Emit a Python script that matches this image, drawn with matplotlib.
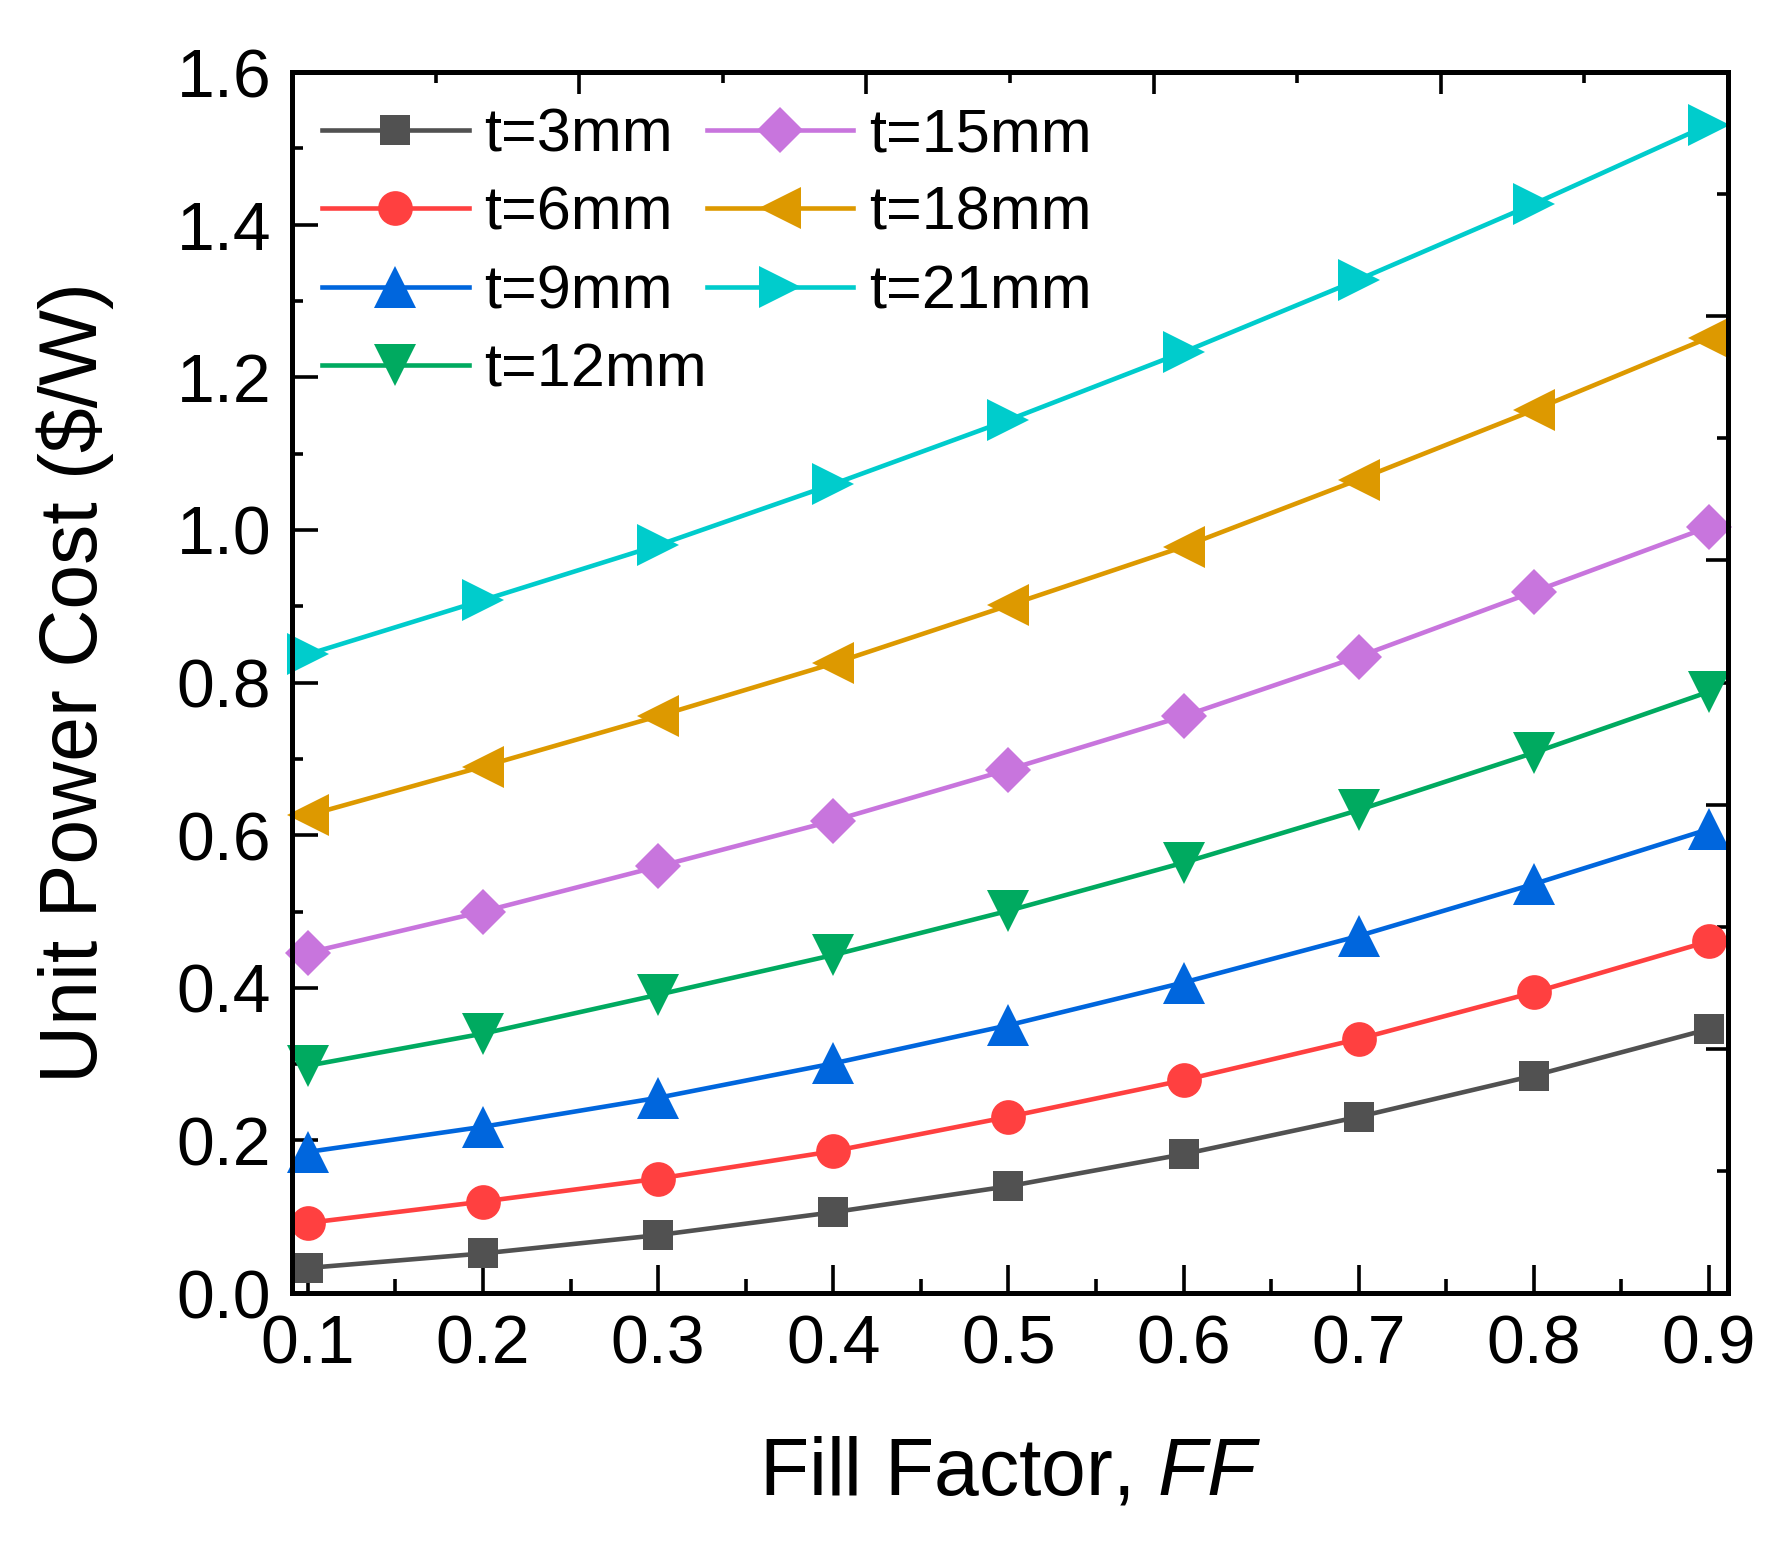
import numpy as np
import matplotlib
matplotlib.use('Agg')
import matplotlib.pyplot as plt
from matplotlib.ticker import MultipleLocator

plt.rcParams['font.family'] = ['Liberation Sans', 'DejaVu Sans']
plt.rcParams['mathtext.fontset'] = 'custom'
plt.rcParams['mathtext.it'] = 'Liberation Sans:italic'
plt.rcParams['mathtext.rm'] = 'Liberation Sans'

# data
ff = [0.1, 0.2, 0.3, 0.4, 0.5, 0.6, 0.7, 0.8, 0.9]
t3 = [0.033, 0.052, 0.076, 0.106, 0.140, 0.182, 0.231, 0.285, 0.346]
t6 = [0.092, 0.120, 0.150, 0.186, 0.231, 0.279, 0.333, 0.394, 0.461]
t9 = [0.185, 0.218, 0.256, 0.301, 0.351, 0.407, 0.468, 0.536, 0.608]
t12 = [0.298, 0.340, 0.391, 0.443, 0.501, 0.564, 0.633, 0.708, 0.788]
t15 = [0.446, 0.500, 0.559, 0.619, 0.686, 0.756, 0.834, 0.919, 1.004]
t18 = [0.626, 0.690, 0.756, 0.825, 0.901, 0.978, 1.066, 1.157, 1.252]
t21 = [0.837, 0.908, 0.980, 1.060, 1.144, 1.233, 1.328, 1.427, 1.531]

labels = ['t=3mm', 't=6mm', 't=9mm', 't=12mm', 't=15mm', 't=18mm', 't=21mm']
series = [t3, t6, t9, t12, t15, t18, t21]
colors = ['#515151', '#FF4040', '#0066DD', '#00AA60', '#C875DD', '#DD9900', '#00CCCC']
markers = ['s', 'o', '^', 'v', 'D', '<', '>']
msizes = [22, 25, 30, 30, 23, 30, 30]

fig = plt.figure(figsize=(17.87, 15.42), dpi=100)
ax = fig.add_axes([0.1634, 0.1614, 0.967 - 0.1634, 0.9533 - 0.1614])

for ys, lab, c, m, ms in zip(series, labels, colors, markers, msizes):
    ax.plot(ff, ys, color=c, marker=m, markersize=ms, markeredgewidth=0,
            linewidth=3.3, label=lab, clip_on=False)

xmin, xmax = 0.0909, 0.9109
ax.set_xlim(xmin, xmax)
ax.set_ylim(0, 1.6)
ax.set_xticks(ff)
ax.set_xticklabels(['0.1', '0.2', '0.3', '0.4', '0.5', '0.6', '0.7', '0.8', '0.9'])
ax.xaxis.set_minor_locator(MultipleLocator(0.05))
ax.yaxis.set_major_locator(MultipleLocator(0.2))
ax.yaxis.set_minor_locator(MultipleLocator(0.1))
ax.yaxis.set_major_formatter(matplotlib.ticker.FormatStrFormatter('%.1f'))

for s in ax.spines.values():
    s.set_linewidth(3.6)

ax.tick_params(axis='x', which='major', direction='in', length=20, width=2.6,
               labelsize=49, pad=15)
ax.tick_params(axis='x', which='minor', direction='in', length=10, width=2.6)
ax.tick_params(axis='y', which='major', direction='in', length=19, width=2.6,
               labelsize=49, pad=15)
ax.tick_params(axis='y', which='minor', direction='in', length=8, width=2.6)

# top and right axes carry their own 0..1 ticks
top = ax.secondary_xaxis('top', functions=(lambda x: (x - xmin) / (xmax - xmin),
                                           lambda f: xmin + f * (xmax - xmin)))
top.set_xticks([0, 0.2, 0.4, 0.6, 0.8, 1.0])
top.xaxis.set_minor_locator(MultipleLocator(0.1))
top.tick_params(which='major', direction='in', length=16, width=2.6, labeltop=False)
top.tick_params(which='minor', direction='in', length=8, width=2.6)
top.spines['top'].set_linewidth(3.6)

right = ax.secondary_yaxis('right', functions=(lambda y: y / 1.6, lambda f: f * 1.6))
right.set_yticks([0, 0.2, 0.4, 0.6, 0.8, 1.0])
right.yaxis.set_minor_locator(MultipleLocator(0.1))
right.tick_params(which='major', direction='in', length=16, width=2.6, labelright=False)
right.tick_params(which='minor', direction='in', length=8, width=2.6)
right.spines['right'].set_linewidth(3.6)

ax.set_xlabel('Fill Factor, $\\mathit{FF}$', fontsize=58)
ax.set_ylabel('Unit Power Cost ($/W)', fontsize=58)
ax.xaxis.set_label_coords(0.5, -0.117)
ax.yaxis.set_label_coords(-0.124, 0.5)

ax.legend(ncol=2, loc='upper left', bbox_to_anchor=(0.021, 0.971), frameon=False,
          fontsize=44, handlelength=2.4, handletextpad=0.25, columnspacing=0.0,
          labelspacing=0.35, borderpad=0, borderaxespad=0)

plt.savefig('out.png', dpi=100)
